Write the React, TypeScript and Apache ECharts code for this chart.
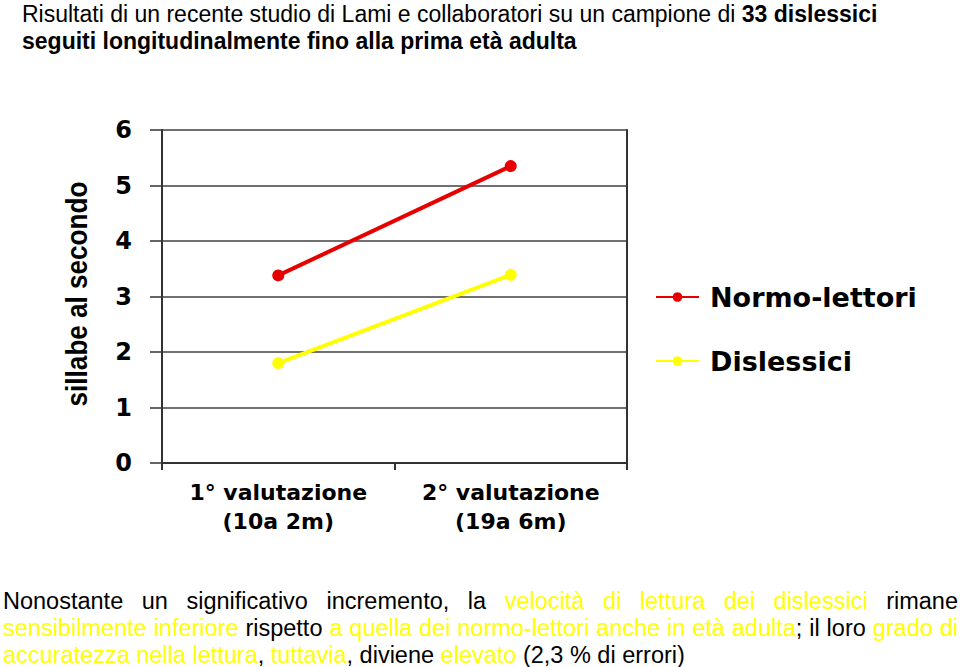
import React, { useEffect, useRef } from 'react';
import * as echarts from 'echarts';

const categories = ['1° valutazione\n(10a 2m)', '2° valutazione\n(19a 6m)'];
const seriesNames = ['Normo-lettori', 'Dislessici'];
const normoLettori = [3.38, 5.35];
const dislessici = [1.8, 3.39];
const yMin = 0;
const yMax = 6;
const yInterval = 1;
const yAxisName = 'sillabe al secondo';

const titleLine1Normal = 'Risultati di un recente studio di Lami e collaboratori su un campione di ';
const titleLine1Bold = '33 dislessici';
const titleLine2 = 'seguiti longitudinalmente fino alla prima età adulta';

type Piece = [string, 'k' | 'y'];
const paraLine1: Piece[][] = [
  [['Nonostante', 'k']], [['un', 'k']], [['significativo', 'k']], [['incremento,', 'k']], [['la', 'k']],
  [['velocità', 'y']], [['di', 'y']], [['lettura', 'y']], [['dei', 'y']], [['dislessici', 'y']], [['rimane', 'k']],
];
const paraLine2: Piece[][] = [
  [['sensibilmente', 'y']], [['inferiore', 'y']], [['rispetto', 'k']], [['a', 'y']], [['quella', 'y']], [['dei', 'y']],
  [['normo-lettori', 'y']], [['anche', 'y']], [['in', 'y']], [['età', 'y']], [['adulta', 'y'], [';', 'k']],
  [['il', 'k']], [['loro', 'k']], [['grado', 'y']], [['di', 'y']],
];
const paraLine3: Piece[][] = [
  [['accuratezza', 'y']], [['nella', 'y']], [['lettura', 'y'], [',', 'k']], [['tuttavia', 'y'], [',', 'k']],
  [['diviene', 'k']], [['elevato', 'y']], [['(2,3', 'k']], [['%', 'k']], [['di', 'k']], [['errori)', 'k']],
];
const paragraph = [paraLine1, paraLine2, paraLine3];
const justified = [true, true, false];

const YELLOW = '#FFFF00';
const RED = '#E60000';
const AXIS = '#333333';
const PARA_FONT_SIZE = 23.5;
const PARA_LINE_HEIGHT = 22;
const PARA_FAMILY = '"Liberation Sans", Arial, sans-serif';
const CHART_FAMILY = '"DejaVu Sans", sans-serif';

function buildParagraph(): any[] {
  const canvas = document.createElement('canvas');
  const ctx = canvas.getContext('2d')!;
  ctx.font = `${PARA_FONT_SIZE}px ${PARA_FAMILY}`;
  const spaceW = ctx.measureText(' ').width;
  const left = 3;
  const right = 958;
  const ys = [601, 628, 654.5];
  const els: any[] = [];
  paragraph.forEach((words, li) => {
    const widths = words.map((w) => w.reduce((s, p) => s + ctx.measureText(p[0]).width, 0));
    const total = widths.reduce((a, b) => a + b, 0);
    const gap = justified[li] ? (right - left - total) / (words.length - 1) : spaceW;
    let x = left;
    words.forEach((w, wi) => {
      const text = w.map((p) => `{${p[1]}|${p[0]}}`).join('');
      els.push({
        type: 'text',
        x,
        y: ys[li],
        silent: true,
        style: {
          text,
          fontSize: PARA_FONT_SIZE,
          fontFamily: PARA_FAMILY,
          lineHeight: PARA_LINE_HEIGHT,
          verticalAlign: 'middle',
          align: 'left',
          rich: {
            k: { fill: '#000000', fontSize: PARA_FONT_SIZE, fontFamily: PARA_FAMILY, lineHeight: PARA_LINE_HEIGHT },
            y: { fill: YELLOW, fontSize: PARA_FONT_SIZE, fontFamily: PARA_FAMILY, lineHeight: PARA_LINE_HEIGHT },
          },
        },
      });
      x += widths[wi] + gap;
    });
  });
  return els;
}

export default function App() {
  const ref = useRef<HTMLDivElement>(null);
  useEffect(() => {
    if (!ref.current) return;
    const chart = echarts.init(ref.current, undefined, { renderer: 'svg' });
    const graphic: any[] = [
      {
        type: 'text',
        x: 22,
        y: 14,
        silent: true,
        style: {
          text: `{n|${titleLine1Normal}}{b|${titleLine1Bold}}`,
          verticalAlign: 'middle',
          fontSize: 23,
          fontFamily: PARA_FAMILY,
          rich: {
            n: { fill: '#000', fontSize: 23, fontFamily: PARA_FAMILY },
            b: { fill: '#000', fontSize: 23, fontFamily: PARA_FAMILY, fontWeight: 'bold' },
          },
        },
      },
      {
        type: 'text',
        x: 22,
        y: 41,
        silent: true,
        style: {
          text: titleLine2,
          verticalAlign: 'middle',
          fontSize: 23,
          fontWeight: 'bold',
          fontFamily: PARA_FAMILY,
          fill: '#000',
        },
      },
      {
        type: 'text',
        x: 77,
        y: 294,
        rotation: Math.PI / 2,
        scaleX: 0.87,
        silent: true,
        style: {
          text: yAxisName,
          align: 'center',
          verticalAlign: 'middle',
          fontSize: 30,
          fontWeight: 'bold',
          fontFamily: PARA_FAMILY,
          fill: '#000',
        },
      },
      ...buildParagraph(),
    ];
    chart.setOption({
      animation: false,
      backgroundColor: '#ffffff',
      grid: { left: 162, top: 130, width: 465, height: 333, containLabel: false },
      legend: {
        orient: 'vertical',
        left: 650,
        top: 277,
        itemWidth: 43,
        itemHeight: 12,
        itemGap: 34,
        data: seriesNames,
        textStyle: {
          fontFamily: CHART_FAMILY,
          fontWeight: 'bold',
          fontSize: 27,
          lineHeight: 30,
          color: '#000',
          padding: [0, 0, 0, 6],
        },
      },
      xAxis: {
        type: 'category',
        data: categories,
        boundaryGap: true,
        axisLine: { show: true, lineStyle: { color: AXIS, width: 2 } },
        axisTick: { show: true, length: 7, lineStyle: { color: AXIS, width: 2 } },
        axisLabel: {
          margin: 15,
          fontFamily: CHART_FAMILY,
          fontWeight: 'bold',
          fontSize: 22,
          lineHeight: 29,
          color: '#000',
        },
        splitLine: { show: false },
      },
      yAxis: [
        {
          type: 'value',
          min: yMin,
          max: yMax,
          interval: yInterval,
          axisLine: { show: true, lineStyle: { color: AXIS, width: 2 } },
          axisTick: { show: true, length: 12, lineStyle: { color: AXIS, width: 1.5 } },
          axisLabel: {
            margin: 30,
            fontFamily: CHART_FAMILY,
            fontWeight: 'bold',
            fontSize: 24,
            color: '#000',
          },
          splitLine: { show: true, lineStyle: { color: '#404040', width: 1.5 } },
        },
        {
          type: 'value',
          position: 'right',
          min: yMin,
          max: yMax,
          interval: yInterval,
          axisLine: { show: true, lineStyle: { color: AXIS, width: 2 } },
          axisTick: { show: false },
          axisLabel: { show: false },
          splitLine: { show: false },
        },
      ],
      series: [
        {
          name: seriesNames[0],
          type: 'line',
          data: normoLettori,
          symbol: 'circle',
          symbolSize: 12,
          color: RED,
          lineStyle: { color: RED, width: 4 },
          itemStyle: { color: RED },
        },
        {
          name: seriesNames[1],
          type: 'line',
          data: dislessici,
          symbol: 'circle',
          symbolSize: 12,
          color: YELLOW,
          lineStyle: { color: YELLOW, width: 4 },
          itemStyle: { color: YELLOW },
        },
      ],
      graphic,
    });
    return () => chart.dispose();
  }, []);
  return (
    <div
      ref={ref}
      style={{ position: 'absolute', left: 0, top: 0, width: 960, height: 667 }}
    />
  );
}
